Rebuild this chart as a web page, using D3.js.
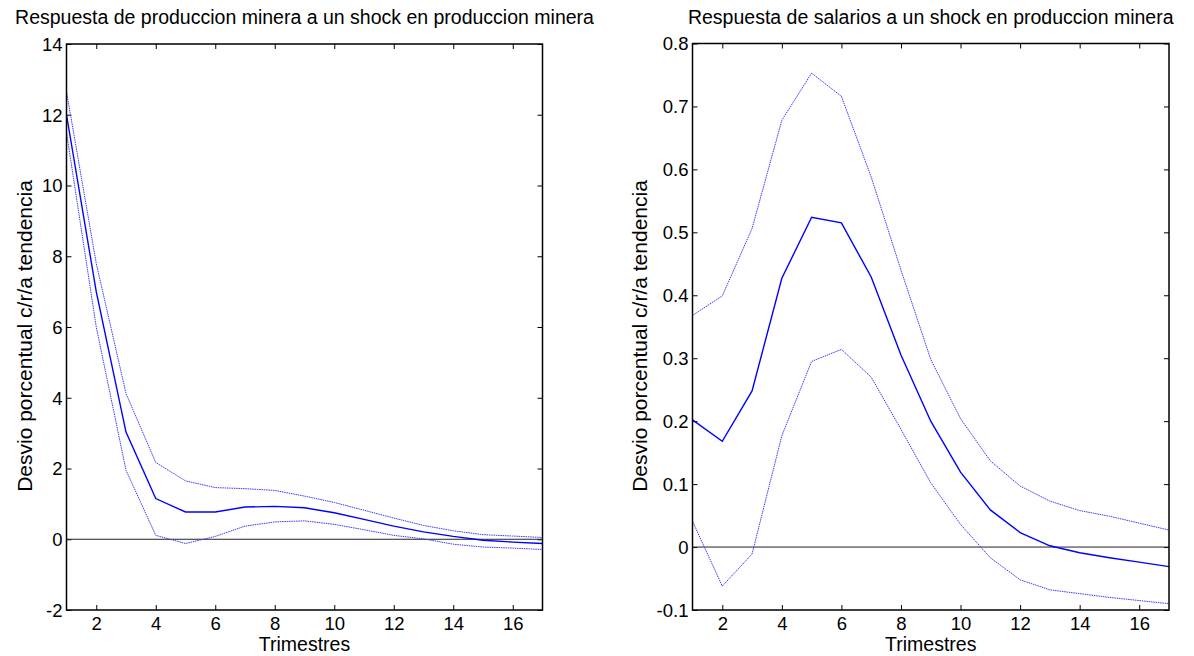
<!DOCTYPE html>
<html><head><meta charset="utf-8">
<script src="https://cdn.jsdelivr.net/npm/d3@7"></script>
<style>
body{margin:0;background:#fff;}
svg text{font-family:"Liberation Sans",Arial,sans-serif;fill:#000;}
</style></head>
<body><svg id="c" width="1194" height="656"></svg>
<script>
const periods = d3.range(1, 18);
const xTicks = [2,4,6,8,10,12,14,16];

// Panel 1: mining production response
const title1 = "Respuesta de produccion minera a un shock en produccion minera";
const yTicks1 = [-2,0,2,4,6,8,10,12,14];
const mean1  = [12.0, 7.0, 3.03, 1.15, 0.77, 0.77, 0.91, 0.93, 0.89, 0.75, 0.56, 0.37, 0.21, 0.08, -0.03, -0.08, -0.12];
const upper1 = [12.65, 7.8, 4.12, 2.17, 1.65, 1.46, 1.43, 1.38, 1.22, 1.04, 0.82, 0.60, 0.39, 0.24, 0.13, 0.09, 0.05];
const lower1 = [11.5, 6.0, 1.95, 0.11, -0.12, 0.08, 0.37, 0.49, 0.52, 0.42, 0.27, 0.11, 0.01, -0.14, -0.22, -0.25, -0.29];

// Panel 2: wages response
const title2 = "Respuesta de salarios a un shock en produccion minera";
const yTicks2 = [-0.1,0,0.1,0.2,0.3,0.4,0.5,0.6,0.7,0.8];
const mean2  = [0.202, 0.168, 0.248, 0.427, 0.524, 0.515, 0.429, 0.305, 0.200, 0.119, 0.059, 0.023, 0.002, -0.009, -0.017, -0.024, -0.031];
const upper2 = [0.368, 0.399, 0.506, 0.678, 0.753, 0.716, 0.588, 0.440, 0.298, 0.204, 0.137, 0.097, 0.073, 0.058, 0.049, 0.038, 0.027];
const lower2 = [0.041, -0.062, -0.011, 0.177, 0.295, 0.314, 0.270, 0.187, 0.102, 0.036, -0.017, -0.052, -0.068, -0.074, -0.080, -0.085, -0.090];

const xLabel = "Trimestres";
const yLabel = "Desvio porcentual c/r/a tendencia";

const svg = d3.select("#c");

function panel(opt){
  const {x0, x1, y0, y1, yDomain, yTicks, fmt, mean, upper, lower, title, ylabX} = opt;
  const g = svg.append("g");
  const x = d3.scaleLinear().domain([1,17]).range([x0,x1]);
  const y = d3.scaleLinear().domain(yDomain).range([y1,y0]);
  const tl = 5;

  const ax = g.append("g").attr("transform",`translate(0,${y1})`)
    .call(d3.axisBottom(x).tickValues(xTicks).tickSize(-tl).tickPadding(7).tickFormat(d3.format("d")));
  const axT = g.append("g").attr("transform",`translate(0,${y0})`)
    .call(d3.axisTop(x).tickValues(xTicks).tickSize(-tl).tickFormat(""));
  const ay = g.append("g").attr("transform",`translate(${x0},0)`)
    .call(d3.axisLeft(y).tickValues(yTicks).tickSize(-tl).tickPadding(4).tickFormat(fmt));
  const ayR = g.append("g").attr("transform",`translate(${x1},0)`)
    .call(d3.axisRight(y).tickValues(yTicks).tickSize(-tl).tickFormat(""));
  [ax,axT,ay,ayR].forEach(a=>{
    a.select(".domain").remove();
    a.selectAll(".tick line").attr("stroke","#000").attr("stroke-width",1);
    a.selectAll(".tick text").attr("font-size",18.5).attr("font-family","Liberation Sans, Arial, sans-serif");
  });
  ay.selectAll(".tick text").attr("dy","0.35em");
  ax.selectAll(".tick text").attr("dy","0.71em");

  g.append("line").attr("x1",x(1)).attr("x2",x(17)).attr("y1",y(0)).attr("y2",y(0))
    .attr("stroke","#222").attr("stroke-width",1);

  const line = d3.line().x((d,i)=>x(periods[i])).y(d=>y(d));
  g.append("path").datum(upper).attr("d",line).attr("fill","none")
    .attr("stroke","#3a3aff").attr("stroke-width",1).attr("stroke-dasharray","1.5,0.8");
  g.append("path").datum(lower).attr("d",line).attr("fill","none")
    .attr("stroke","#3a3aff").attr("stroke-width",1).attr("stroke-dasharray","1.5,0.8");
  g.append("path").datum(mean).attr("d",line).attr("fill","none")
    .attr("stroke","#0000ff").attr("stroke-width",1.4);

  g.append("rect").attr("x",x0).attr("y",y0).attr("width",x1-x0).attr("height",y1-y0)
    .attr("fill","none").attr("stroke","#000").attr("stroke-width",1.5);

  g.append("text").attr("x",(x0+x1)/2).attr("y",24).attr("text-anchor","middle")
    .attr("font-size",19.5).text(title);
  g.append("text").attr("x",(x0+x1)/2).attr("y",651).attr("text-anchor","middle")
    .attr("font-size",19.5).text(xLabel);
  g.append("text").attr("transform",`translate(${ylabX},336) rotate(-90)`)
    .attr("text-anchor","middle").attr("font-size",21).text(yLabel);
}

const hyph = f => d => f(d).replace("\u2212","-");
panel({x0:66.5, x1:542.5, y0:44, y1:610, yDomain:[-2,14], yTicks:yTicks1, fmt:hyph(d3.format("d")),
  mean:mean1, upper:upper1, lower:lower1, title:title1, ylabX:32});
panel({x0:692.5, x1:1169, y0:43.5, y1:610, yDomain:[-0.1,0.8], yTicks:yTicks2,
  fmt:hyph(d => d === 0 ? "0" : d3.format(".1f")(d)),
  mean:mean2, upper:upper2, lower:lower2, title:title2, ylabX:647});
</script></body></html>
